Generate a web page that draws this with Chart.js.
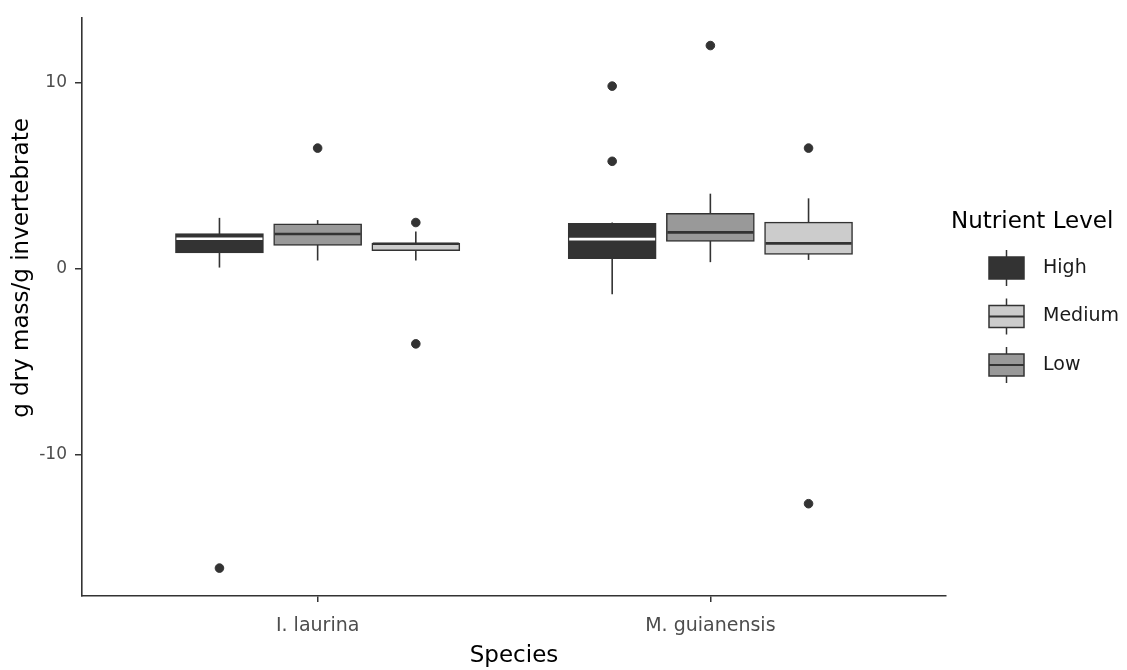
<!DOCTYPE html>
<html>
<head>
<meta charset="utf-8">
<script src="https://cdn.jsdelivr.net/npm/chart.js@4"></script>
<style>
  html, body { margin: 0; padding: 0; background: #fff; }
  #wrap { width: 1127px; height: 670px; }
</style>
</head>
<body>
<div id="wrap"><canvas id="boxCanvas"></canvas></div>
<script>
// colors
const highFill = '#333333';
const lowFill = '#999999';
const mediumFill = '#cccccc';
const lineColor = '#333333';
const tickColor = '#4d4d4d';
const fontFamily = '"DejaVu Sans", Arial, sans-serif';

// data
const species = ['I. laurina', 'M. guianensis'];
const yTicks = [-10, 0, 10];
const legendLevels = ['High', 'Medium', 'Low'];
const yTitle = 'g dry mass/g invertebrate';

// dodge order in the plot: High, Low, Medium
const highLower   = [0.05, -1.39];
const highQ1      = [0.84, 0.53];
const highMedian  = [1.60, 1.58];
const highQ3      = [1.88, 2.42];
const highUpper   = [2.72, 2.47];
const highOutliers = [[-16.1], [9.8, 5.76]];

const lowLower    = [0.43, 0.34];
const lowQ1       = [1.24, 1.46];
const lowMedian   = [1.85, 1.94];
const lowQ3       = [2.40, 2.97];
const lowUpper    = [2.60, 4.02];
const lowOutliers = [[6.47], [11.98]];

const mediumLower   = [0.43, 0.46];
const mediumQ1      = [0.96, 0.75];
const mediumMedian  = [1.33, 1.35];
const mediumQ3      = [1.37, 2.49];
const mediumUpper   = [1.99, 3.77];
const mediumOutliers = [[2.47, -4.05], [6.47, -12.64]];

const groups = [
    { label: 'High', fill: highFill, medianColor: '#ffffff', lower: highLower, q1: highQ1, median: highMedian, q3: highQ3, upper: highUpper, outliers: highOutliers },
    { label: 'Low', fill: lowFill, medianColor: lineColor, lower: lowLower, q1: lowQ1, median: lowMedian, q3: lowQ3, upper: lowUpper, outliers: lowOutliers },
    { label: 'Medium', fill: mediumFill, medianColor: lineColor, lower: mediumLower, q1: mediumQ1, median: mediumMedian, q3: mediumQ3, upper: mediumUpper, outliers: mediumOutliers },
];
const legendFills = { High: highFill, Medium: mediumFill, Low: lowFill };

const dodge = 0.25;     // ggplot dodge spacing (units of x)
const boxWidth = 88;    // px

function groupX(speciesIndex, groupIndex) {
    return speciesIndex + 1 + (groupIndex - 1) * dodge;
}

// box bodies as floating bars
const boxDatasets = groups.map((g, gi) => ({
    type: 'bar',
    label: g.label,
    data: species.map((s, si) => ({ x: groupX(si, gi), y: [g.q1[si], g.q3[si]] })),
    backgroundColor: g.fill,
    borderColor: lineColor,
    borderWidth: 1.5,
    borderSkipped: false,
    barThickness: boxWidth,
    grouped: false,
    order: 2
}));

// outliers as points
const outlierPoints = [];
groups.forEach((g, gi) => {
    species.forEach((s, si) => {
        g.outliers[si].forEach(v => outlierPoints.push({ x: groupX(si, gi), y: v }));
    });
});

// whiskers under the boxes, medians on top
const boxPlotLines = {
    id: 'boxPlotLines',
    beforeDatasetsDraw(chart) {
        const { ctx, scales: { x, y } } = chart;
        ctx.save();
        ctx.strokeStyle = lineColor;
        ctx.lineWidth = 1.6;
        groups.forEach((g, gi) => {
            species.forEach((s, si) => {
                const px = x.getPixelForValue(groupX(si, gi));
                ctx.beginPath();
                ctx.moveTo(px, y.getPixelForValue(g.lower[si]));
                ctx.lineTo(px, y.getPixelForValue(g.upper[si]));
                ctx.stroke();
            });
        });
        ctx.restore();
    },
    afterDatasetsDraw(chart) {
        const { ctx, scales: { x, y } } = chart;
        ctx.save();
        ctx.lineWidth = 2.6;
        groups.forEach((g, gi) => {
            ctx.strokeStyle = g.medianColor;
            species.forEach((s, si) => {
                const px = x.getPixelForValue(groupX(si, gi));
                const py = y.getPixelForValue(g.median[si]);
                ctx.beginPath();
                ctx.moveTo(px - boxWidth / 2 + 1, py);
                ctx.lineTo(px + boxWidth / 2 - 1, py);
                ctx.stroke();
            });
        });
        ctx.restore();
    }
};

// y title sits a bit above the panel centre in the original, so draw it here
const yAxisTitle = {
    id: 'yAxisTitle',
    afterDraw(chart) {
        const { ctx } = chart;
        ctx.save();
        ctx.translate(22, 268);
        ctx.rotate(-Math.PI / 2);
        ctx.fillStyle = '#000';
        ctx.font = '23px ' + fontFamily;
        ctx.textAlign = 'center';
        ctx.textBaseline = 'middle';
        ctx.fillText(yTitle, 0, 0);
        ctx.restore();
    }
};

// ggplot-like legend on the right
const boxLegend = {
    id: 'boxLegend',
    afterDraw(chart) {
        const { ctx } = chart;
        const left = chart.chartArea.right + 5;
        ctx.save();
        ctx.fillStyle = '#000';
        ctx.font = '23px ' + fontFamily;
        ctx.textBaseline = 'middle';
        ctx.fillText('Nutrient Level', left, 222);

        legendLevels.forEach((name, i) => {
            const cy = 268 + i * 48.5;
            const bx = 989, bw = 35, bh = 22;
            ctx.strokeStyle = lineColor;
            ctx.lineWidth = 1.5;
            ctx.beginPath();
            ctx.moveTo(bx + bw / 2, cy - bh / 2 - 7);
            ctx.lineTo(bx + bw / 2, cy + bh / 2 + 7);
            ctx.stroke();
            ctx.fillStyle = legendFills[name];
            ctx.fillRect(bx, cy - bh / 2, bw, bh);
            ctx.strokeRect(bx, cy - bh / 2, bw, bh);
            ctx.lineWidth = 2;
            ctx.beginPath();
            ctx.moveTo(bx, cy);
            ctx.lineTo(bx + bw, cy);
            ctx.stroke();
            ctx.fillStyle = '#1a1a1a';
            ctx.font = '19px ' + fontFamily;
            ctx.fillText(name, 1043, cy);
        });
        ctx.restore();
    }
};

const ctx = document.getElementById('boxCanvas').getContext('2d');
const boxChart = new Chart(ctx, {
    data: {
        datasets: [
            ...boxDatasets,
            {
                type: 'scatter',
                label: 'Outliers',
                data: outlierPoints,
                backgroundColor: lineColor,
                borderColor: lineColor,
                pointRadius: 4.3,
                pointHoverRadius: 4.3,
                order: 1
            }
        ]
    },
    options: {
        responsive: true,
        maintainAspectRatio: false,
        animation: false,
        layout: { padding: { top: 15, right: 181, left: 0, bottom: 0 } },
        plugins: {
            legend: { display: false },
            tooltip: { enabled: false }
        },
        scales: {
            x: {
                type: 'linear',
                min: 0.4,
                max: 2.6,
                offset: false,
                afterBuildTicks(scale) {
                    scale.ticks = species.map((s, i) => ({ value: i + 1 }));
                },
                afterFit(scale) { scale.height = 74; },
                ticks: {
                    color: tickColor,
                    font: { size: 19, family: fontFamily },
                    padding: 13,
                    callback: (value) => species[value - 1]
                },
                grid: {
                    display: true,
                    offset: false,
                    drawOnChartArea: false,
                    drawTicks: true,
                    tickLength: 6,
                    color: lineColor,
                    lineWidth: 1.5
                },
                border: { display: true, color: lineColor, width: 1.6 },
                title: {
                    display: true,
                    text: 'Species',
                    color: '#000',
                    font: { size: 23, family: fontFamily },
                    padding: { top: 2, bottom: 0 }
                }
            },
            y: {
                type: 'linear',
                min: -17.6,
                max: 13.45,
                afterBuildTicks(scale) {
                    scale.ticks = yTicks.map(v => ({ value: v }));
                },
                afterFit(scale) { scale.width = 82; },
                ticks: {
                    color: tickColor,
                    font: { size: 17, family: fontFamily },
                    padding: 8,
                    callback: (value) => String(value)
                },
                grid: {
                    display: true,
                    offset: false,
                    drawOnChartArea: false,
                    drawTicks: true,
                    tickLength: 7,
                    color: lineColor,
                    lineWidth: 1.5
                },
                border: { display: true, color: lineColor, width: 1.6 },
                title: { display: false }
            }
        }
    },
    plugins: [boxPlotLines, yAxisTitle, boxLegend]
});
</script>
</body>
</html>
